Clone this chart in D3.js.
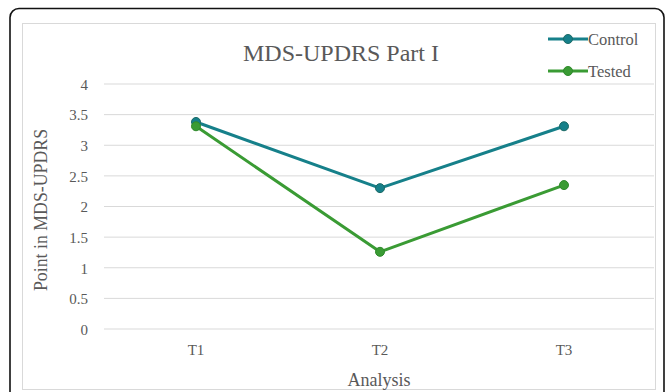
<!DOCTYPE html>
<html>
<head>
<meta charset="utf-8">
<script src="https://cdn.jsdelivr.net/npm/d3@7/dist/d3.min.js"></script>
<style>
  html, body { margin: 0; padding: 0; background: #fff; }
  svg { display: block; }
  text { font-family: "Liberation Serif", "Times New Roman", serif; }
</style>
</head>
<body>
<svg id="chart" width="668" height="392"></svg>
<script>
// Visit labels and mean scores per group
const categories = ["T1", "T2", "T3"];
const controlValues = [3.38, 2.30, 3.31];
const testedValues = [3.31, 1.26, 2.35];
const yTicks = [0, 0.5, 1, 1.5, 2, 2.5, 3, 3.5, 4];
const seriesNames = ["Control", "Tested"];

const colors = { Control: "#16808a", Tested: "#3a9b34" };
const markerStroke = { Control: "#1c6a66", Tested: "#2f8a2c" };

const svg = d3.select("#chart");

// Outer frame with rounded corners
svg.append("rect")
  .attr("x", 10).attr("y", 8.5).attr("width", 654).attr("height", 400)
  .attr("rx", 9).attr("fill", "#fff")
  .attr("stroke", "#111").attr("stroke-width", 1.6);

// Chart area box
svg.append("rect")
  .attr("x", 22.5).attr("y", 23.5).attr("width", 633).attr("height", 366)
  .attr("fill", "#fff").attr("stroke", "#d9d9d9").attr("stroke-width", 1);

const plot = { left: 104, right: 656, top: 84, bottom: 329 };

const x = d3.scaleBand().domain(categories).range([plot.left, plot.right]);
const y = d3.scaleLinear().domain([0, 4]).range([plot.bottom, plot.top]);

// Horizontal gridlines
svg.append("g").selectAll("line").data(yTicks).join("line")
  .attr("x1", plot.left).attr("x2", plot.right - 2)
  .attr("y1", d => y(d)).attr("y2", d => y(d))
  .attr("stroke", "#d9d9d9").attr("stroke-width", 1);

// Y axis tick labels
const yAxis = d3.axisLeft(y).tickValues(yTicks).tickSize(0).tickPadding(0).tickFormat(d3.format("~g"));
const yg = svg.append("g").attr("transform", `translate(${plot.left - 16},0)`).call(yAxis);
yg.select(".domain").remove();
yg.selectAll("text").attr("font-size", 15).attr("fill", "#595959")
  .attr("font-family", "Liberation Serif, serif").attr("dy", "0.35em");

// X axis tick labels
const xAxis = d3.axisBottom(x).tickSize(0).tickPadding(0);
const xg = svg.append("g").attr("transform", `translate(0,${plot.bottom + 15})`).call(xAxis);
xg.select(".domain").remove();
xg.selectAll("text").attr("font-size", 15).attr("fill", "#595959")
  .attr("font-family", "Liberation Serif, serif");

// Title
svg.append("text")
  .attr("x", 341).attr("y", 61).attr("text-anchor", "middle")
  .attr("font-size", 24).attr("fill", "#595959")
  .text("MDS-UPDRS Part I");

// Axis titles
svg.append("text")
  .attr("x", 379).attr("y", 386).attr("text-anchor", "middle")
  .attr("font-size", 18).attr("fill", "#595959")
  .text("Analysis");

svg.append("text")
  .attr("transform", `translate(47,210) rotate(-90)`)
  .attr("text-anchor", "middle")
  .attr("font-size", 17.8).attr("fill", "#595959")
  .text("Point in MDS-UPDRS");

// Series lines and markers
const series = [
  { name: "Control", values: controlValues },
  { name: "Tested", values: testedValues }
];
const line = d3.line().x((d, i) => x(categories[i]) + x.bandwidth() / 2).y(d => y(d));

series.forEach(s => {
  svg.append("path").datum(s.values)
    .attr("d", line).attr("fill", "none")
    .attr("stroke", colors[s.name]).attr("stroke-width", 3)
    .attr("stroke-linejoin", "round");
});
series.forEach(s => {
  svg.append("g").selectAll("circle").data(s.values).join("circle")
    .attr("cx", (d, i) => x(categories[i]) + x.bandwidth() / 2)
    .attr("cy", d => y(d)).attr("r", 4.5)
    .attr("fill", colors[s.name]).attr("stroke", markerStroke[s.name]).attr("stroke-width", 1);
});

// Legend
const legend = svg.append("g");
seriesNames.forEach((name, i) => {
  const ly = 39 + i * 32;
  legend.append("line").attr("x1", 548).attr("x2", 588).attr("y1", ly).attr("y2", ly)
    .attr("stroke", colors[name]).attr("stroke-width", 3);
  legend.append("circle").attr("cx", 568).attr("cy", ly).attr("r", 4.5)
    .attr("fill", colors[name]).attr("stroke", markerStroke[name]).attr("stroke-width", 1);
  legend.append("text").attr("x", 588).attr("y", ly + 6)
    .attr("font-size", 16.5).attr("fill", "#595959")
    .attr("font-family", "Liberation Serif, serif").text(name);
});
</script>
</body>
</html>
